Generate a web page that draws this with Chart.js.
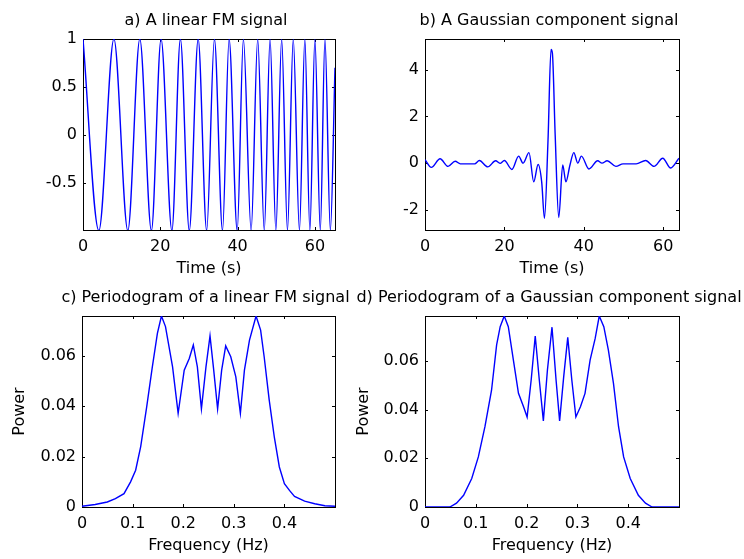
<!DOCTYPE html>
<html>
<head>
<title>Linear FM and Gaussian component signals</title>
<script src="https://cdn.jsdelivr.net/npm/chart.js@4.4.0/dist/chart.umd.min.js"></script>
<style>
  body {margin: 0; background: #fff;}
  #wrap {position: relative; width: 744px; height: 559px;}
  #wrap canvas {position: absolute; left: 0; top: 0;}
</style>
</head>
<body>
<div id="wrap">
  <canvas id="fm" width="744" height="559"></canvas>
  <canvas id="gauss" width="744" height="559"></canvas>
  <canvas id="fmPsd" width="744" height="559"></canvas>
  <canvas id="gaussPsd" width="744" height="559"></canvas>
</div>
<script>
// a) linear FM signal - peaks and troughs
const fmTime = [0, 4.1, 8.0, 11.6, 14.7, 17.7, 20.2, 23.0, 25.2, 27.5, 29.8, 32.0, 34.0, 36.1, 37.8, 39.9,
  41.5, 43.5, 45.2, 46.9, 48.4, 49.9, 51.4, 52.9, 54.4, 56.0, 57.4, 58.7, 60.0, 61.4, 62.6, 64.0, 65.2];
const fmValue = [1, -1, 1, -1, 1, -1, 1, -1, 1, -1, 1, -1, 1, -1, 1, -1,
  1, -1, 1, -1, 1, -1, 1, -1, 1, -1, 1, -1, 1, -1, 1, -1, 0.7];

// b) gaussian component signal
const gaussTime = [0, 1.6, 3.8, 5.8, 7.6, 8.9, 12.5, 13.7, 15.8, 17.8, 18.9, 20.0, 21.9, 23.6, 24.7, 26.2,
  27.4, 28.5, 29.4, 30.1, 31.0, 31.75, 32.1, 32.8, 33.7, 34.7, 35.5, 36.5, 37.5, 38.5, 39.4, 41.3,
  43.5, 44.6, 45.9, 48.1, 49.9, 53.2, 55.6, 57.7, 59.9, 61.9, 64];
const gaussValue = [0.15, -0.18, 0.19, -0.14, 0.08, -0.03, -0.03, 0.11, -0.16, 0.1, -0.01, 0.11, -0.27, 0.3, 0.0, 0.45,
  -0.8, -0.06, -0.8, -2.36, 1.0, 4.86, 4.7, 1.2, -2.33, -0.08, -0.8, -0.1, 0.45, 0.0, 0.3, -0.25,
  0.1, 0.0, 0.1, -0.14, -0.03, -0.03, 0.11, -0.14, 0.21, -0.21, 0.21];

// c) periodogram of the FM signal
const freqFM = [0, 0.026, 0.05, 0.066, 0.083, 0.096, 0.106, 0.116, 0.128, 0.139, 0.149, 0.157, 0.165, 0.179, 0.19,
  0.202, 0.212, 0.22, 0.228, 0.236, 0.245, 0.253, 0.26, 0.268, 0.276, 0.284, 0.294, 0.304, 0.313, 0.321,
  0.331, 0.344, 0.353, 0.36, 0.37, 0.38, 0.39, 0.4, 0.41, 0.42, 0.44, 0.46, 0.48, 0.5];
const powerFM = [0.0003, 0.001, 0.002, 0.0033, 0.0053, 0.01, 0.0146, 0.024, 0.04, 0.0557, 0.069, 0.0759, 0.0717, 0.0557, 0.0372,
  0.0544, 0.059, 0.0644, 0.0557, 0.039, 0.0557, 0.068, 0.055, 0.039, 0.0544, 0.064, 0.0597, 0.0517, 0.0372, 0.0544,
  0.0663, 0.0759, 0.0703, 0.0597, 0.0425, 0.0279, 0.0159, 0.0093, 0.0066, 0.0042, 0.0023, 0.0013, 0.0005, 0.0003];

// d) periodogram of the gaussian component signal
const freqGauss = [0, 0.049, 0.062, 0.076, 0.092, 0.105, 0.118, 0.131, 0.141, 0.148, 0.156, 0.164, 0.174, 0.184, 0.194,
  0.201, 0.209, 0.217, 0.225, 0.233, 0.241, 0.25, 0.258, 0.265, 0.273, 0.281, 0.289, 0.297, 0.306, 0.315,
  0.325, 0.335, 0.343, 0.352, 0.361, 0.371, 0.381, 0.391, 0.404, 0.42, 0.434, 0.447, 0.5];
const powerGauss = [0, 0, 0.0016, 0.0048, 0.0117, 0.0206, 0.033, 0.048, 0.0666, 0.0741, 0.0785, 0.0741, 0.0604, 0.0467, 0.0412,
  0.037, 0.0522, 0.0703, 0.0522, 0.0354, 0.0563, 0.0739, 0.0522, 0.0354, 0.0535, 0.0697, 0.0522, 0.037, 0.0412, 0.0467,
  0.0604, 0.0693, 0.0785, 0.0741, 0.0645, 0.0508, 0.033, 0.0206, 0.0117, 0.0048, 0.0016, 0, 0];

// tick labels
const timeTicks = [0, 20, 40, 60];
const fmTicks = [-0.5, 0, 0.5, 1];
const gaussTicks = [-2, 0, 2, 4];
const freqTicks = [0, 0.1, 0.2, 0.3, 0.4];
const powerTicks = [0, 0.02, 0.04, 0.06];

Chart.defaults.font.family = '"DejaVu Sans", sans-serif';
Chart.defaults.font.size = 16;
Chart.defaults.color = '#000';

// matlab style box with ticks pointing inwards
const frame = {
  id: 'frame',
  beforeDatasetsDraw(chart) {
    const {ctx, chartArea: a, scales} = chart;
    const tl = 3;
    ctx.save();
    ctx.strokeStyle = '#000';
    ctx.lineWidth = 1;
    ctx.beginPath();
    scales.x.ticks.forEach(t => {
      const px = Math.round(scales.x.getPixelForValue(t.value)) + 0.5;
      ctx.moveTo(px, a.bottom); ctx.lineTo(px, a.bottom - tl);
      ctx.moveTo(px, a.top); ctx.lineTo(px, a.top + tl);
    });
    scales.y.ticks.forEach(t => {
      const py = Math.round(scales.y.getPixelForValue(t.value)) + 0.5;
      ctx.moveTo(a.left, py); ctx.lineTo(a.left + tl, py);
      ctx.moveTo(a.right, py); ctx.lineTo(a.right - tl, py);
    });
    ctx.stroke();
    ctx.strokeRect(a.left + 0.5, a.top + 0.5, a.right - a.left, a.bottom - a.top);
    ctx.restore();
  }
};

// title centred over the axes, allowed to run past them like in matlab
const axTitle = {
  id: 'axTitle',
  afterDraw(chart, args, opts) {
    const {ctx, chartArea: a} = chart;
    ctx.save();
    ctx.font = '16px "DejaVu Sans", sans-serif';
    ctx.fillStyle = '#000';
    ctx.textAlign = 'center';
    ctx.textBaseline = 'alphabetic';
    ctx.fillText(opts.text, (a.left + a.right) / 2 - 3, a.top - 14);
    ctx.restore();
  }
};

function makePlot(id, xs, ys, cfg) {
  const pts = xs.map((x, i) => ({x: x, y: ys[i]}));
  const box = cfg.box; // left, top, right, bottom of the axes
  new Chart(document.getElementById(id), {
    type: 'line',
    data: {
      datasets: [{
        data: pts,
        borderColor: '#0000ff',
        borderWidth: 1.4,
        pointRadius: 0,
        tension: 0,
        cubicInterpolationMode: cfg.smooth ? 'monotone' : 'default',
        fill: false
      }]
    },
    options: {
      responsive: false,
      animation: false,
      devicePixelRatio: 1,
      layout: {padding: {left: box[0] - cfg.yW, top: box[1], right: 744 - box[2], bottom: 559 - box[3] - 50}},
      plugins: {legend: {display: false}, tooltip: {enabled: false}, axTitle: {text: cfg.title}},
      scales: {
        x: {
          type: 'linear', min: cfg.xRange[0], max: cfg.xRange[1],
          grid: {display: false, drawTicks: false}, border: {display: false},
          ticks: {padding: 7, autoSkip: false, maxRotation: 0, callback: v => String(v)},
          afterBuildTicks: s => { s.ticks = cfg.xTicks.map(v => ({value: v})); },
          afterFit: s => { s.height = 50; },
          title: {display: true, text: cfg.xLabel, padding: {top: 0, bottom: 2}}
        },
        y: {
          type: 'linear', min: cfg.yRange[0], max: cfg.yRange[1],
          grid: {display: false, drawTicks: false}, border: {display: false},
          ticks: {padding: 6, autoSkip: false, callback: v => String(v)},
          afterBuildTicks: s => { s.ticks = cfg.yTicks.map(v => ({value: v})); },
          afterFit: s => { s.width = cfg.yW; },
          title: {display: !!cfg.yLabel, text: cfg.yLabel || '', padding: {top: 0, bottom: 0}}
        }
      }
    },
    plugins: [frame, axTitle]
  });
}

makePlot('fm', fmTime, fmValue, {
  box: [83, 39, 335, 230], yW: 83, smooth: true,
  title: 'a) A linear FM signal', xLabel: 'Time (s)',
  xRange: [0, 65.2], yRange: [-0.994, 1], xTicks: timeTicks, yTicks: fmTicks
});
makePlot('gauss', gaussTime, gaussValue, {
  box: [425, 39, 679, 230], yW: 60, smooth: true,
  title: 'b) A Gaussian component signal', xLabel: 'Time (s)',
  xRange: [0, 64], yRange: [-2.86, 5.31], xTicks: timeTicks, yTicks: gaussTicks
});
makePlot('fmPsd', freqFM, powerFM, {
  box: [82, 316, 335, 507], yW: 72,
  title: 'c) Periodogram of a linear FM signal', xLabel: 'Frequency (Hz)', yLabel: 'Power',
  xRange: [0, 0.5], yRange: [0, 0.0759], xTicks: freqTicks, yTicks: powerTicks
});
makePlot('gaussPsd', freqGauss, powerGauss, {
  box: [425, 316, 679, 507], yW: 71,
  title: 'd) Periodogram of a Gaussian component signal', xLabel: 'Frequency (Hz)', yLabel: 'Power',
  xRange: [0, 0.5], yRange: [0, 0.0785], xTicks: freqTicks, yTicks: powerTicks
});
</script>
</body>
</html>
